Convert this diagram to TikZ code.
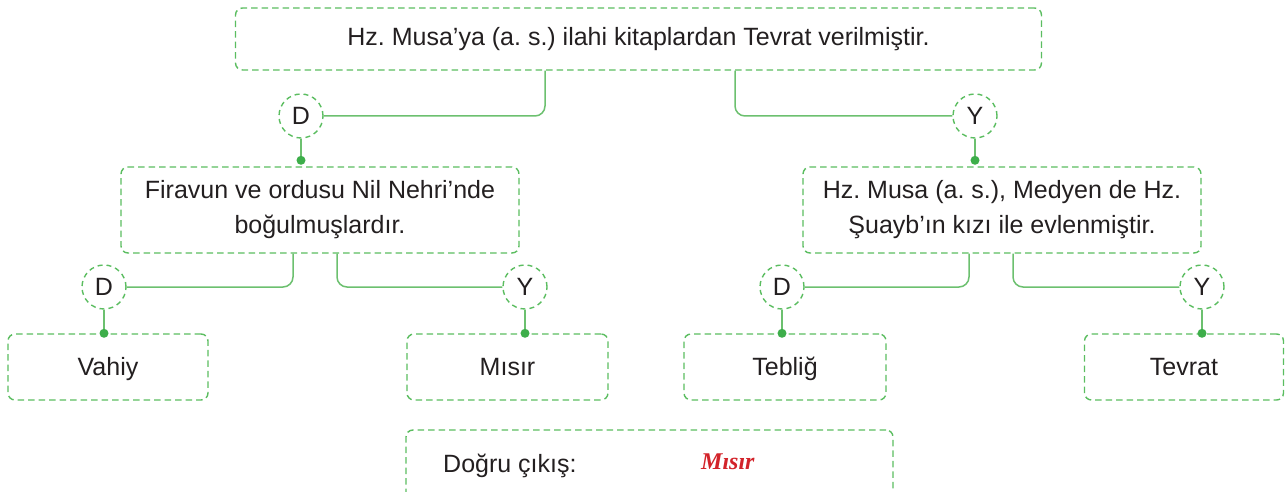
\documentclass[tikz,border=0pt]{standalone}
\usepackage{fontspec}
\setmainfont{Liberation Sans}
\newfontfamily\redfont{Liberation Serif}
\definecolor{dgreen}{HTML}{5BBD60}
\definecolor{lgreen}{HTML}{6CC06F}
\definecolor{dotgreen}{HTML}{3DAE4A}
\definecolor{txt}{HTML}{231F20}
\definecolor{redtxt}{HTML}{D2232A}
\frenchspacing
\begin{document}
\begin{tikzpicture}[x=1pt,y=-1pt,
  box/.style={draw=dgreen, line width=1.4pt, dash pattern=on 6.5pt off 4pt, rounded corners=7pt, inner sep=0pt, text=txt, font=\fontsize{25}{35}\selectfont, align=center},
  leaf/.style={box, text height=20pt, text depth=3pt},
  circ/.style={circle, draw=dgreen, line width=1.4pt, dash pattern=on 5pt off 4pt, minimum size=44pt, inner sep=0pt, text=txt, font=\fontsize{25}{30}\selectfont},
  conn/.style={draw=lgreen, line width=1.5pt, rounded corners=10pt},
  dot/.style={fill=dotgreen}]
\useasboundingbox (0,0) rectangle (1285,492);
% boxes
\node[box, minimum width=806pt, minimum height=62pt] (top) at (638.5,39) {Hz. Musa’ya (a. s.) ilahi kitaplardan Tevrat verilmiştir.};
\node[box, minimum width=398pt, minimum height=86pt] (b2) at (320,210) {Firavun ve ordusu Nil Nehri’nde\\boğulmuşlardır.};
\node[box, minimum width=398pt, minimum height=86pt] (b3) at (1002,210) {Hz. Musa (a. s.), Medyen de Hz.\\Şuayb’ın kızı ile evlenmiştir.};
\node[leaf, minimum width=200pt, minimum height=66pt] (vahiy) at (108,367) {Vahiy};
\node[leaf, minimum width=201pt, minimum height=66pt] (misir) at (507.5,367) {Mısır};
\node[leaf, minimum width=202pt, minimum height=66pt] (teblig) at (785,367) {Tebliğ};
\node[leaf, minimum width=199pt, minimum height=66pt] (tevrat) at (1184,367) {Tevrat};
\node[box, minimum width=487pt, minimum height=70pt] (out) at (649.5,465) {};
\node[anchor=base west, inner sep=0pt, text=txt, font=\fontsize{25}{30}\selectfont] (lbl) at (443,472) {Doğru çıkış:};
\node[anchor=base west, inner sep=0pt, text=redtxt, font=\redfont\bfseries\itshape\fontsize{24}{28}\selectfont] (ans) at (701,469) {Mısır};
% circles
\node[circ] (cD1) at (301,116) {D};
\node[circ] (cY1) at (975,116) {Y};
\node[circ] (cD2) at (104,287) {D};
\node[circ] (cY2) at (525,287) {Y};
\node[circ] (cD3) at (782,287) {D};
\node[circ] (cY3) at (1202,287) {Y};
% connectors
\draw[conn] ([xshift=-93.5pt]top.south) |- (cD1.east);
\draw[conn] ([xshift=96.5pt]top.south) |- (cY1.west);
\draw[conn] ([xshift=-27pt]b2.south) |- (cD2.east);
\draw[conn] ([xshift=17pt]b2.south) |- (cY2.west);
\draw[conn] ([xshift=-33pt]b3.south) |- (cD3.east);
\draw[conn] ([xshift=11pt]b3.south) |- (cY3.west);
% drops with dots
\coordinate (p1) at ([yshift=6pt]cD1.south |- b2.north);
\coordinate (p2) at ([yshift=6pt]cY1.south |- b3.north);
\draw[conn] (cD1.south) -- (p1); \fill[dot] (p1) circle (4.5pt);
\draw[conn] (cY1.south) -- (p2); \fill[dot] (p2) circle (4.5pt);
\draw[conn] (cD2.south) -- (cD2.south |- vahiy.north); \fill[dot] (cD2.south |- vahiy.north) circle (4.5pt);
\draw[conn] (cY2.south) -- (cY2.south |- misir.north); \fill[dot] (cY2.south |- misir.north) circle (4.5pt);
\draw[conn] (cD3.south) -- (cD3.south |- teblig.north); \fill[dot] (cD3.south |- teblig.north) circle (4.5pt);
\draw[conn] (cY3.south) -- (cY3.south |- tevrat.north); \fill[dot] (cY3.south |- tevrat.north) circle (4.5pt);
\end{tikzpicture}
\end{document}
